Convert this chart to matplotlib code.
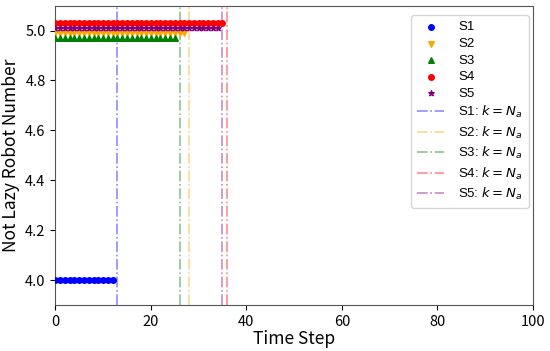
import matplotlib
matplotlib.use("Agg")
import matplotlib.pyplot as plt

plt.rcParams['font.family'] = ['Noto Sans CJK SC', 'DejaVu Sans']
plt.rcParams['mathtext.fontset'] = 'dejavusans'

# step at which each scheme reaches k = N_a, and the plotted (offset) level
names = ["S1", "S2", "S3", "S4", "S5"]
n_a = [13, 28, 26, 36, 35]
levels = [4.0, 4.99, 4.97, 5.03, 5.01]
colors = ["blue", "orange", "green", "red", "purple"]
markers = ["o", "v", "^", "o", "*"]

fig, ax = plt.subplots(figsize=(5.5, 3.51), dpi=100)
fig.subplots_adjust(left=0.1006, right=0.969, top=0.984, bottom=0.131)

for name, n, lv, c, m in zip(names, n_a, levels, colors, markers):
    steps = list(range(n))
    ax.scatter(steps, [lv] * n, color=c, marker=m, s=16, label=name, zorder=3)

for name, n, c in zip(names, n_a, colors):
    ax.axvline(n, color=c, linestyle='-.', alpha=0.45, linewidth=1.2,
               label=name + ": $k=N_a$")

ax.set_xlim(0, 100)
ax.set_ylim(3.9, 5.1)
ax.set_xticks([0, 20, 40, 60, 80, 100])
ax.set_yticks([4.0, 4.2, 4.4, 4.6, 4.8, 5.0])
ax.tick_params(labelsize=10.5)
ax.set_xlabel("Time Step", fontsize=12.5, labelpad=1)
ax.set_ylabel("Not Lazy Robot Number", fontsize=12.5)
for s in ax.spines.values():
    s.set_color("#555555")

ax.legend(loc='upper right', bbox_to_anchor=(1.005, 0.99),
          prop={'family': ['Liberation Sans', 'DejaVu Sans'], 'size': 9.5},
          handlelength=2.0, handletextpad=1.1, labelspacing=0.33, borderpad=0.45)

plt.savefig("out.png", dpi=100)
